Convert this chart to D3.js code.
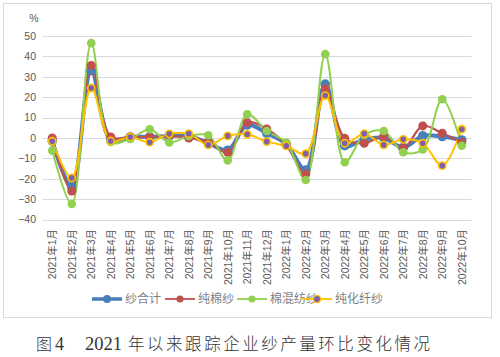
<!DOCTYPE html>
<html><head><meta charset="utf-8">
<script src="https://cdn.jsdelivr.net/npm/d3@7"></script>
<style>body{margin:0;background:#fff}svg{display:block}</style>
</head><body><svg id="c" width="500" height="357"></svg>
<script>
const categories = ["2021年1月","2021年2月","2021年3月","2021年4月","2021年5月","2021年6月","2021年7月","2021年8月","2021年9月","2021年10月","2021年11月","2021年12月","2022年1月","2022年2月","2022年3月","2022年4月","2022年5月","2022年6月","2022年7月","2022年8月","2022年9月","2022年10月"];
const yarnTotal   = [-1.5,-24,33,-1,0.5,0.5,1,1,-2.5,-6,6.4,2.3,-3,-15.7,26.4,-3.8,-0.7,0,-4.6,1,0.7,-1];
const pureCotton  = [0,-26,35.5,0.5,0.5,0.5,1,0,-2,-7.2,7.5,4.4,-3.6,-17.7,24.1,-0.2,-2.6,0.7,-5,5.9,2.3,-2.3];
const cottonBlend = [-6.2,-32.4,46.5,-2,-0.5,4.3,-2.2,1,1.3,-11,11.6,3.4,-2.3,-20.6,41.1,-11.9,1.5,3.4,-7,-5.7,19,-3.8];
const pureChem    = [-1.6,-19.6,24.5,-1.5,0.5,-2.1,2,2.1,-3.4,1,1.8,-1.8,-3.9,-7.7,20.8,-2.6,2.1,-3.4,-0.7,-2.6,-13.6,4.3];
const seriesNames = ["纱合计","纯棉纱","棉混纺纱","纯化纤纱"];
const yTicks = [-40,-30,-20,-10,0,10,20,30,40,50];

const series = [
  {name:seriesNames[0], values:yarnTotal,   stroke:"#4A7EBB", fill:"#4A7EBB", lw:4,   r:4.8, ms:0},
  {name:seriesNames[1], values:pureCotton,  stroke:"#C0504D", fill:"#C0504D", lw:2.2, r:4.5, ms:0},
  {name:seriesNames[2], values:cottonBlend, stroke:"#92D050", fill:"#92D050", lw:2,   r:4.3, ms:0},
  {name:seriesNames[3], values:pureChem,    stroke:"#FFC000", fill:"#7F60A8", lw:2,   r:3.6, ms:1.6}
];

const svg = d3.select("#c");
const sans = "'Liberation Sans','Noto Sans CJK SC',Arial,sans-serif";

// chart frame
svg.append("rect").attr("x",3.5).attr("y",3.5).attr("width",488).attr("height",314)
  .attr("fill","#fff").attr("stroke","#D9D9D9").attr("stroke-width",1);

const x = d3.scalePoint().domain(categories).range([42.5,471.5]).padding(0.5);
const y = d3.scaleLinear().domain([-40,50]).range([219.5,36]);

// gridlines
svg.append("g").selectAll("line").data(yTicks).join("line")
  .attr("x1",42.5).attr("x2",471.5)
  .attr("y1",d=>Math.round(y(d))+0.5).attr("y2",d=>Math.round(y(d))+0.5)
  .attr("stroke","#D9D9D9").attr("stroke-width",1);

// y axis labels
const yAxis = d3.axisLeft(y).tickValues(yTicks).tickSize(0).tickPadding(0);
const gy = svg.append("g").attr("transform","translate(36,0)").call(yAxis);
gy.select(".domain").remove();
gy.selectAll("text").attr("fill","#595959").style("font-family",sans).style("font-size","10.5px");

svg.append("text").attr("x",34).attr("y",22).attr("text-anchor","middle")
  .attr("fill","#595959").style("font-family",sans).style("font-size","10.5px").text("%");

// x axis labels (rotated)
const xAxis = d3.axisBottom(x).tickSize(0).tickPadding(0);
const gx = svg.append("g").attr("transform","translate(0,229)").call(xAxis);
gx.select(".domain").remove();
gx.selectAll("text")
  .attr("transform","rotate(-90)")
  .attr("text-anchor","end").attr("x",0).attr("y",0).attr("dy","0.35em")
  .attr("fill","#595959").style("font-family",sans).style("font-size","10.5px");

// lines & markers
const line = d3.line().x((d,i)=>x(categories[i])).y(d=>y(d)).curve(d3.curveCatmullRom.alpha(0.5));
series.forEach(s=>{
  svg.append("path").datum(s.values).attr("d",line)
    .attr("fill","none").attr("stroke",s.stroke).attr("stroke-width",s.lw)
    .attr("stroke-linejoin","round");
});
series.forEach(s=>{
  svg.append("g").selectAll("circle").data(s.values).join("circle")
    .attr("cx",(d,i)=>x(categories[i])).attr("cy",d=>y(d)).attr("r",s.r)
    .attr("fill",s.fill).attr("stroke",s.ms?s.stroke:"none").attr("stroke-width",s.ms);
});

// legend
const legendX = [92,165,237,302];
const lg = svg.append("g");
series.forEach((s,i)=>{
  const g = lg.append("g").attr("transform",`translate(${legendX[i]},299)`);
  g.append("line").attr("x1",0).attr("x2",30).attr("y1",0).attr("y2",0)
    .attr("stroke",s.stroke).attr("stroke-width",i===0?3.5:1.8);
  g.append("circle").attr("cx",15).attr("cy",0).attr("r",i===0?4:3.6)
    .attr("fill",s.fill).attr("stroke",s.ms?s.stroke:"none").attr("stroke-width",s.ms?1.3:0);
  g.append("text").attr("x",33).attr("y",0).attr("dy","0.36em")
    .attr("fill","#7F7F7F").style("font-family","'Noto Sans CJK SC',sans-serif")
    .style("font-size","12px").text(s.name);
});

// caption
const serifNum = "'Liberation Serif','DejaVu Serif',serif";
const cjk = "'Noto Sans CJK SC',sans-serif";
svg.append("text").attr("x",36).attr("y",350).attr("fill","#333")
  .style("font-family",cjk).style("font-weight",300).style("font-size","16px").text("图");
svg.append("text").attr("x",55).attr("y",350).attr("fill","#333")
  .style("font-family",serifNum).style("font-size","18px").text("4");
svg.append("text").attr("x",85).attr("y",350).attr("fill","#333")
  .style("font-family",serifNum).style("font-size","18.5px").text("2021");
svg.append("text").attr("x",128).attr("y",350).attr("fill","#333")
  .attr("textLength",302).attr("lengthAdjust","spacing")
  .style("font-family",cjk).style("font-weight",300).style("font-size","16.5px")
  .text("年以来跟踪企业纱产量环比变化情况");
</script></body></html>
